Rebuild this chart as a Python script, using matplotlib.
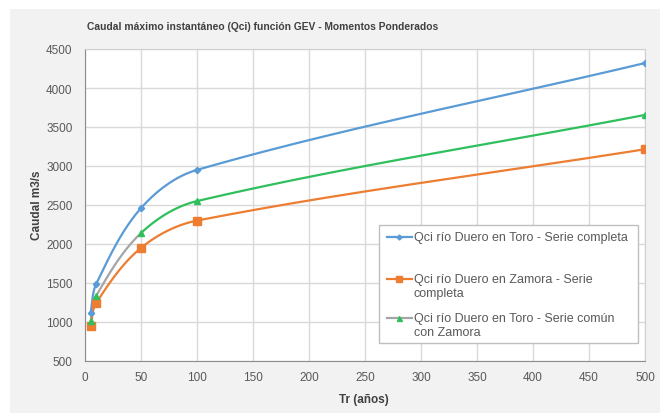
import numpy as np
import matplotlib
matplotlib.use("Agg")
import matplotlib.pyplot as plt
from matplotlib.patches import Rectangle
from matplotlib.lines import Line2D

# return periods (years) and peak flows (m3/s)
tr = [5, 10, 50, 100, 500]
toro_completa = [1115, 1487, 2460, 2950, 4320]
zamora_completa = [950, 1244, 1950, 2300, 3215]
toro_comun = [1015, 1335, 2140, 2550, 3655]

labels = [
    ["Qci río Duero en Toro - Serie completa"],
    ["Qci río Duero en Zamora - Serie", "completa"],
    ["Qci río Duero en Toro - Serie común", "con Zamora"],
]

BLUE = "#5b9bd5"
ORANGE = "#ed7d31"
GREEN = "#2fbf5c"
GREY = "#a5a5a5"
TXT = "#595959"
FONT = "Liberation Sans"

XMIN, XMAX, YMIN, YMAX = 0, 500, 500, 4500
AX_W, AX_H = 560, 312


def smooth(x, y, n=60):
    # smoothed line through the points, tangents built in screen space
    sx = AX_W / (XMAX - XMIN)
    sy = AX_H / (YMAX - YMIN)
    p = np.column_stack([np.asarray(x, float) * sx, np.asarray(y, float) * sy])
    m = len(p)
    tang = np.zeros_like(p)
    for i in range(m):
        a = p[max(i - 1, 0)]
        b = p[min(i + 1, m - 1)]
        d = b - a
        tang[i] = d / np.hypot(*d)
    out = []
    t = np.linspace(0, 1, n)[:, None]
    for i in range(m - 1):
        p1, p2 = p[i], p[i + 1]
        L = np.hypot(*(p2 - p1)) / 3
        c1 = p1 + tang[i] * L
        c2 = p2 - tang[i + 1] * L
        seg = (1 - t) ** 3 * p1 + 3 * (1 - t) ** 2 * t * c1 + 3 * (1 - t) * t ** 2 * c2 + t ** 3 * p2
        out.append(seg if i == 0 else seg[1:])
    c = np.vstack(out)
    return c[:, 0] / sx, c[:, 1] / sy


fig = plt.figure(figsize=(6.6, 4.14), dpi=100, facecolor="white")
fig.patches.append(Rectangle((10 / 660, 0), 1, 1 - 10 / 414, transform=fig.transFigure,
                             facecolor="#f2f2f2", edgecolor="none", zorder=-10))
ax = fig.add_axes([85 / 660, 52 / 414, AX_W / 660, AX_H / 414])
ax.set_facecolor("white")

lw = 1.6
x, y = smooth(tr, toro_completa)
ax.plot(x, y, color=BLUE, lw=lw, zorder=3)
ax.plot(tr, toro_completa, ls="none", marker="D", ms=3.2, color=BLUE, zorder=4)

x, y = smooth(tr, zamora_completa)
ax.plot(x, y, color=ORANGE, lw=lw, zorder=3)
ax.plot(tr, zamora_completa, ls="none", marker="s", ms=5.5, color=ORANGE, zorder=4)

x, y = smooth(tr, toro_comun)
k = int(np.argmin(np.abs(x - tr[2])))
ax.plot(x[:k + 1], y[:k + 1], color=GREY, lw=lw, zorder=2)
ax.plot(x[k:], y[k:], color=GREEN, lw=lw, zorder=3)
ax.plot(tr, toro_comun, ls="none", marker="^", ms=4.5, color=GREEN, zorder=4)

ax.set_xlim(XMIN, XMAX)
ax.set_ylim(YMIN, YMAX)
ax.set_xticks(np.arange(0, 501, 50))
ax.set_yticks(np.arange(500, 4501, 500))
ax.grid(True, color="#d9d9d9", lw=1)
ax.set_axisbelow(True)
for s in ax.spines.values():
    s.set_color("#d0d0d0")
ax.spines["left"].set_color("#8c8c8c")
ax.spines["bottom"].set_color("#8c8c8c")
ax.tick_params(length=0, labelsize=8.5, labelcolor=TXT)
ax.tick_params(axis="x", pad=7)
ax.tick_params(axis="y", pad=9)
for lab in ax.get_xticklabels() + ax.get_yticklabels():
    lab.set_fontfamily(FONT)

fig.text(263 / 660, 1 - 27 / 414, "Caudal máximo instantáneo (Qci) función GEV - Momentos Ponderados",
         ha="center", va="center", fontsize=7.4, fontweight="bold", color="#404040", family=FONT)
fig.text(37 / 660, 1 - 205 / 414, "Caudal m3/s", rotation=90, ha="center", va="center",
         fontsize=8.5, fontweight="bold", color="#404040", family=FONT)
fig.text(364 / 660, 1 - 400 / 414, "Tr (años)", ha="center", va="center",
         fontsize=8.5, fontweight="bold", color="#404040", family=FONT)

# legend box drawn in axes coordinates
ax.add_patch(Rectangle((0.525, 0.058), 0.4625, 0.378, transform=ax.transAxes,
                       facecolor="white", edgecolor="#bfbfbf", lw=1, zorder=5))
styles = [(BLUE, BLUE, "D", 3.2), (ORANGE, ORANGE, "s", 5.5), (GREY, GREEN, "^", 4.5)]
rows = [0.397, 0.263, 0.138]
for (lc, mc, m, ms), yy, lines in zip(styles, rows, labels):
    ax.add_line(Line2D([0.539, 0.584], [yy, yy], transform=ax.transAxes, color=lc, lw=lw, zorder=6))
    ax.add_line(Line2D([0.5615], [yy], transform=ax.transAxes, color=mc, marker=m, ms=ms * 0.8,
                       ls="none", zorder=7))
    for j, t in enumerate(lines):
        ax.text(0.5875, yy - j * 0.045, t, transform=ax.transAxes, ha="left", va="center",
                fontsize=9, color=TXT, family=FONT, zorder=7)

fig.savefig("out.png", dpi=100, facecolor=fig.get_facecolor())
